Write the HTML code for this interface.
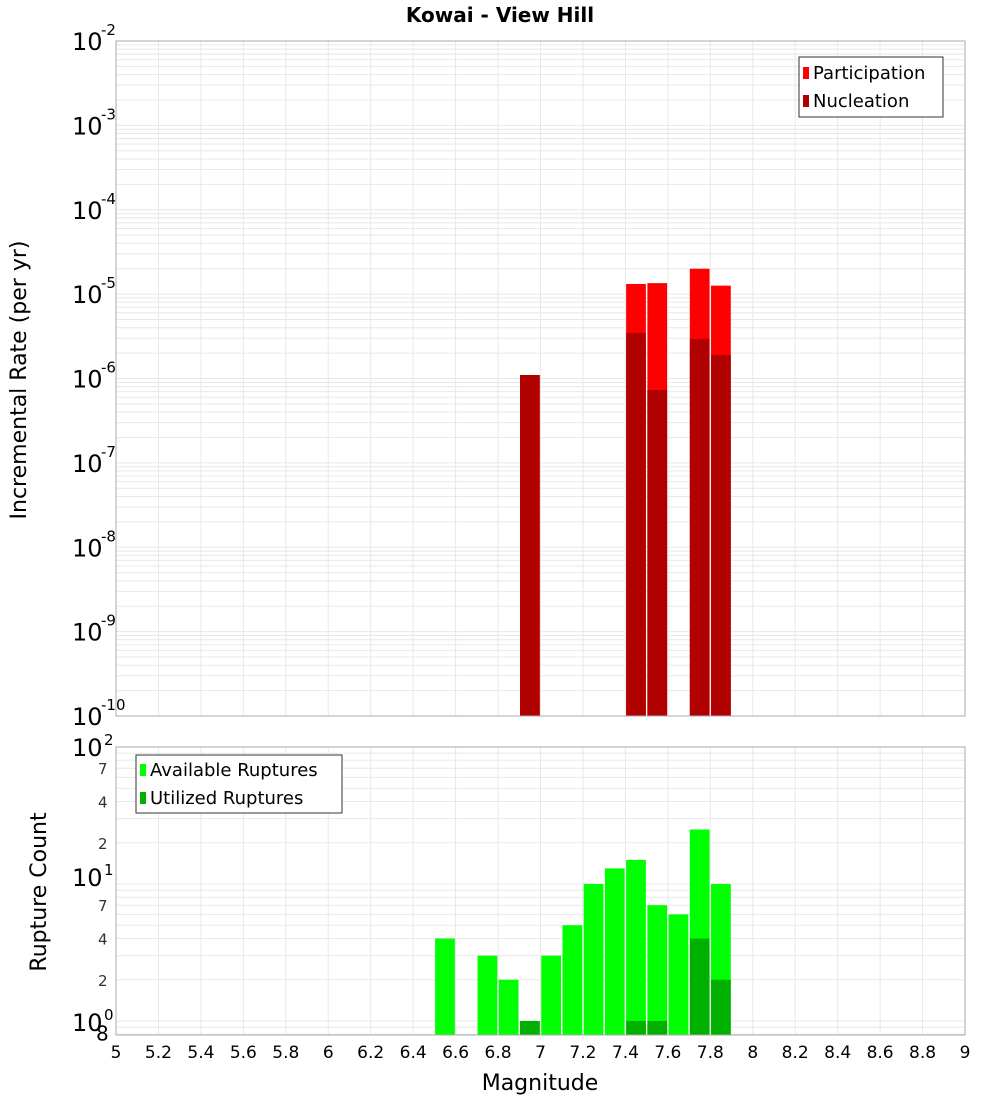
<!DOCTYPE html>
<html><head><meta charset="utf-8"><style>
body{margin:0;background:#fff;font-family:"Liberation Sans","DejaVu Sans",sans-serif}
</style></head><body>
<svg id="c" width="1000" height="1100" xmlns="http://www.w3.org/2000/svg" font-family="DejaVu Sans, Liberation Sans, sans-serif"></svg>
<script>
const mags=[6.55,6.75,6.85,6.95,7.05,7.15,7.25,7.35,7.45,7.55,7.65,7.75,7.85];
const available=[4,3,2,1,3,5,10,13,15,7,6,25,10];
const utilized=[0,0,0,1,0,0,0,0,1,1,0,4,2];
const rateMags=[6.95,7.45,7.55,7.75,7.85];
const participation=[1.1e-6,1.32e-5,1.35e-5,2.0e-5,1.26e-5];
const nucleation=[1.1e-6,3.46e-6,7.3e-7,2.95e-6,1.9e-6];
const xTicks=[5,5.2,5.4,5.6,5.8,6,6.2,6.4,6.6,6.8,7,7.2,7.4,7.6,7.8,8,8.2,8.4,8.6,8.8,9];
const xTickLabels=["5","5.2","5.4","5.6","5.8","6","6.2","6.4","6.6","6.8","7","7.2","7.4","7.6","7.8","8","8.2","8.4","8.6","8.8","9"];
const topExps=[-2,-3,-4,-5,-6,-7,-8,-9,-10];

const S=document.getElementById('c');const NS='http://www.w3.org/2000/svg';
function el(t,a,txt){const e=document.createElementNS(NS,t);for(const k in a)e.setAttribute(k,a[k]);if(txt!==undefined)e.textContent=txt;S.appendChild(e);return e;}
const X0=116,X1=965;
const x=m=>X0+(m-5)/4*(X1-X0);
const T0=41,T1=716;
const yT=v=>T0+(-2-Math.log10(v))*(T1-T0)/8;
const B0=747,B1=1035,BPD=137;
const yB=v=>884-(Math.log10(v)-1)*BPD;
const bw=(x(5.1)-x(5))-1.5;

// title
let t=el('text',{x:500,y:22,'text-anchor':'middle','font-size':20,'font-weight':'bold'},'Kowai - View Hill');


// frames bg
el('rect',{x:X0,y:T0,width:X1-X0,height:T1-T0,fill:'#fff'});
el('rect',{x:X0,y:B0,width:X1-X0,height:B1-B0,fill:'#fff'});
// gridlines
for(const m of xTicks){el('line',{x1:x(m),x2:x(m),y1:T0,y2:T1,stroke:'#e8e8e8'});el('line',{x1:x(m),x2:x(m),y1:B0,y2:B1,stroke:'#e8e8e8'});}
for(let e=-10;e<-2;e++)for(let k=1;k<10;k++){const yy=yT(k*Math.pow(10,e));el('line',{x1:X0,x2:X1,y1:yy,y2:yy,stroke:'#e8e8e8'});}
for(let e=-1;e<2;e++)for(let k=1;k<10;k++){const yy=yB(k*Math.pow(10,e));if(yy<B0||yy>B1)continue;el('line',{x1:X0,x2:X1,y1:yy,y2:yy,stroke:'#e8e8e8'});}

// top bars
rateMags.forEach((m,i)=>{
 let r=el('rect',{x:x(m)-bw/2,y:yT(participation[i]),width:bw,height:T1-yT(participation[i]),fill:'#ff0000'});
 
 r=el('rect',{x:x(m)-bw/2,y:yT(nucleation[i]),width:bw,height:T1-yT(nucleation[i]),fill:'#b00000'});
 
});
// bottom bars
mags.forEach((m,i)=>{
 let r=el('rect',{x:x(m)-bw/2,y:yB(available[i]),width:bw,height:B1-yB(available[i]),fill:'#00ff00'});
 
 if(utilized[i]>0){r=el('rect',{x:x(m)-bw/2,y:yB(utilized[i]),width:bw,height:B1-yB(utilized[i]),fill:'#00b000'});
 }
});
el('rect',{x:X0,y:T0,width:X1-X0,height:T1-T0,fill:'none',stroke:'#aaa'});
el('rect',{x:X0,y:B0,width:X1-X0,height:B1-B0,fill:'none',stroke:'#aaa'});

// top y labels
topExps.forEach(e=>{
 const yy=yT(Math.pow(10,e));
 let g=el('text',{x:72,y:yy+9,'font-size':24},'10');
 
 el('text',{x:101,y:yy-6,'font-size':15},String(e));
});
// bottom y labels
[[100,'2'],[10,'1'],[1,'0']].forEach(([v,e])=>{
 const yy=v==100?747:v==10?877:1022;
 let g=el('text',{x:72,y:yy+9,'font-size':24},'10');
 
 el('text',{x:104,y:yy-2,'font-size':15},e);
});
[[70,'7'],[40,'4'],[20,'2'],[7,'7'],[4,'4'],[2,'2'],[0.8,'8']].forEach(([v,l])=>{
 el('text',{x:v==0.8?96:98,y:yB(v)+6,'font-size':v==0.8?20:15,fill:v==0.8?'#000':'#333'},l);
});
// x labels
xTicks.forEach((m,i)=>{let g=el('text',{x:x(m),y:1058,'text-anchor':'middle','font-size':17},xTickLabels[i]);
 });
t=el('text',{x:540,y:1090,'text-anchor':'middle','font-size':22},'Magnitude');

t=el('text',{x:0,y:0,'text-anchor':'middle','font-size':22,transform:'translate(26,380) rotate(-90)'},'Incremental Rate (per yr)');

t=el('text',{x:0,y:0,'text-anchor':'middle','font-size':22,transform:'translate(46,892) rotate(-90)'},'Rupture Count');


// legends
let lg=el('rect',{x:799,y:57,width:144,height:60,fill:'#fff',stroke:'#333'});

el('rect',{x:803,y:67,width:6,height:12,fill:'#ff0000'});
t=el('text',{x:813,y:79,'font-size':18},'Participation');
el('rect',{x:803,y:95,width:6,height:12,fill:'#b00000'});
t=el('text',{x:813,y:107,'font-size':18},'Nucleation');
lg=el('rect',{x:136,y:755,width:206,height:58,fill:'#fff',stroke:'#333'});

el('rect',{x:140,y:764,width:6,height:12,fill:'#00ff00'});
t=el('text',{x:150,y:776,'font-size':18},'Available Ruptures');
el('rect',{x:140,y:792,width:6,height:12,fill:'#00b000'});
t=el('text',{x:150,y:804,'font-size':18},'Utilized Ruptures');
</script>
</body></html>
